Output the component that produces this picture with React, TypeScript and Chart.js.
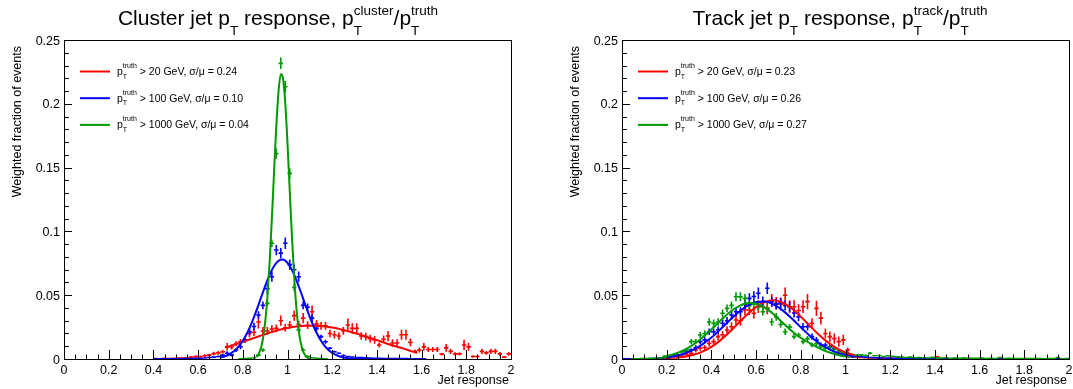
import React, { useEffect, useRef } from "react";
import { Chart, registerables } from "chart.js";
Chart.register(...registerables);

const FONT = '"Liberation Sans", Arial, Helvetica, sans-serif';
const RED = "#ff0000";
const BLUE = "#0000ff";
const GREEN = "#009900";

// 100 bins of width 0.02 on [0, 2]
const BIN_WIDTH = 0.02;
const BIN_CENTERS = Array.from({ length: 100 }, (_, i) => Math.round((0.01 + 0.02 * i) * 100) / 100);

const X_TICKS = [0, 0.2, 0.4, 0.6, 0.8, 1, 1.2, 1.4, 1.6, 1.8, 2];
const X_TICK_LABELS = ["0", "0.2", "0.4", "0.6", "0.8", "1", "1.2", "1.4", "1.6", "1.8", "2"];
const Y_TICKS = [0, 0.05, 0.1, 0.15, 0.2, 0.25];
const Y_TICK_LABELS = ["0", "0.05", "0.1", "0.15", "0.2", "0.25"];

// ---------------- Cluster jets (left) ----------------
const CL_RED = [
  0, 0, 0, 0, 0, 0, 0, 0, 0, 0, 0, 0, 0, 0, 0, 0, 0, 0, 0, 0,
  0.0003, 0.0002, 0.0005, 0.0004, 0.0006, 0.0008, 0.0007, 0.001, 0.0015, 0.002, 0.0018, 0.0025, 0.003, 0.0042, 0.0048, 0.0057,
  0.0096, 0.0094, 0.012, 0.0136, 0.0145, 0.02, 0.021, 0.029, 0.022, 0.022, 0.0235, 0.024, 0.03, 0.0245, 0.0267, 0.034,
  0.027, 0.032, 0.0265, 0.037, 0.0275, 0.026, 0.026, 0.02, 0.019, 0.018, 0.022, 0.0267, 0.024, 0.024, 0.018, 0.0175,
  0.016, 0.015, 0.011, 0.0155, 0.018, 0.0125, 0.0125, 0.019, 0.019, 0.013, 0.006, 0.007, 0.0095, 0.0075, 0.0075, 0.0075,
  0.0038, 0.0087, 0.006, 0.004, 0.004, 0.011, 0.0095, 0.002, 0.002, 0.006, 0.0048, 0.006, 0.006, 0.004, 0.0015, 0.004,
];
const CL_RED_ERR = [
  0, 0, 0, 0, 0, 0, 0, 0, 0, 0, 0, 0, 0, 0, 0, 0, 0, 0, 0, 0,
  0.0003, 0.0002, 0.0004, 0.0003, 0.0004, 0.0005, 0.0005, 0.0006, 0.0008, 0.001, 0.0009, 0.0012, 0.0012, 0.0015, 0.0015, 0.0015,
  0.003, 0.002, 0.002, 0.002, 0.002, 0.003, 0.003, 0.005, 0.003, 0.003, 0.003, 0.003, 0.004, 0.003, 0.003, 0.004,
  0.003, 0.004, 0.003, 0.005, 0.003, 0.003, 0.003, 0.003, 0.003, 0.003, 0.003, 0.005, 0.004, 0.004, 0.003, 0.003,
  0.003, 0.003, 0.002, 0.003, 0.004, 0.003, 0.003, 0.004, 0.004, 0.003, 0.0015, 0.002, 0.003, 0.002, 0.002, 0.002,
  0.001, 0.003, 0.002, 0.0012, 0.0012, 0.004, 0.003, 0.001, 0.001, 0.002, 0.0015, 0.002, 0.002, 0.0015, 0.0008, 0.0015,
];
const CL_BLUE = [
  0, 0, 0, 0, 0, 0, 0, 0, 0, 0, 0, 0, 0, 0, 0, 0, 0, 0, 0, 0,
  0.0001, 0.0001, 0.0002, 0.0001, 0.0002, 0.0002, 0.0003, 0.0003, 0.0004, 0.0005,
  0.0006, 0.0008, 0.0012, 0.0015, 0.002, 0.003, 0.0045, 0.003, 0.007, 0.0096, 0.015, 0.0214, 0.0255, 0.0345, 0.042, 0.055,
  0.0645, 0.0854, 0.083, 0.0907, 0.074, 0.07, 0.0645, 0.042, 0.0405, 0.032, 0.024, 0.0175, 0.0135, 0.0084, 0.0057, 0.0045,
  0.0028, 0.002, 0.0016, 0.0012, 0.0012, 0.0009, 0.0007, 0.0006, 0.0005, 0.0004, 0.0004, 0.0003, 0.0004, 0.0003, 0.0003, 0.0002,
  0.0002, 0.0002, 0.0001, 0, 0, 0, 0, 0, 0, 0, 0, 0, 0, 0, 0, 0, 0, 0, 0, 0, 0, 0,
];
const CL_BLUE_ERR = [
  0, 0, 0, 0, 0, 0, 0, 0, 0, 0, 0, 0, 0, 0, 0, 0, 0, 0, 0, 0,
  0.0001, 0.0001, 0.0001, 0.0001, 0.0001, 0.0001, 0.0002, 0.0002, 0.0002, 0.0003,
  0.0003, 0.0004, 0.0005, 0.0006, 0.0008, 0.001, 0.0015, 0.001, 0.0015, 0.002, 0.002, 0.0025, 0.003, 0.003, 0.003, 0.004,
  0.004, 0.004, 0.004, 0.0045, 0.004, 0.004, 0.004, 0.003, 0.003, 0.003, 0.002, 0.0015, 0.0015, 0.001, 0.0008, 0.0007,
  0.0005, 0.0004, 0.0003, 0.0003, 0.0003, 0.0002, 0.0002, 0.0002, 0.0002, 0.0001, 0.0001, 0.0001, 0.0001, 0.0001, 0.0001, 0.0001,
  0.0001, 0.0001, 0.0001, 0, 0, 0, 0, 0, 0, 0, 0, 0, 0, 0, 0, 0, 0, 0, 0, 0, 0, 0,
];
const CL_GREEN = [
  0, 0, 0, 0, 0, 0, 0, 0, 0, 0, 0, 0, 0, 0, 0, 0, 0, 0, 0, 0,
  0, 0, 0, 0, 0, 0, 0, 0, 0, 0, 0, 0, 0, 0, 0, 0, 0, 0, 0, 0.0002,
  0.0003, 0.0005, 0.001, 0.003, 0.007, 0.0436, 0.0907, 0.161, 0.2317, 0.2134,
  0.1455, 0.056, 0.0227, 0.007, 0.002, 0.001, 0.0005, 0.0003, 0.0002, 0,
  0, 0, 0, 0, 0, 0, 0, 0, 0, 0, 0, 0, 0, 0, 0, 0, 0, 0, 0, 0,
  0, 0, 0, 0, 0, 0, 0, 0, 0, 0, 0, 0, 0, 0, 0, 0, 0, 0, 0, 0,
];
const CL_GREEN_ERR = [
  0, 0, 0, 0, 0, 0, 0, 0, 0, 0, 0, 0, 0, 0, 0, 0, 0, 0, 0, 0,
  0, 0, 0, 0, 0, 0, 0, 0, 0, 0, 0, 0, 0, 0, 0, 0, 0, 0, 0, 0.0001,
  0.0002, 0.0003, 0.0005, 0.001, 0.0015, 0.002, 0.003, 0.004, 0.0045, 0.0045,
  0.004, 0.003, 0.002, 0.0015, 0.001, 0.0005, 0.0003, 0.0002, 0.0001, 0,
  0, 0, 0, 0, 0, 0, 0, 0, 0, 0, 0, 0, 0, 0, 0, 0, 0, 0, 0, 0,
  0, 0, 0, 0, 0, 0, 0, 0, 0, 0, 0, 0, 0, 0, 0, 0, 0, 0, 0, 0,
];

const CL_FIT_RED_X = [0.72, 0.76, 0.8, 0.84, 0.88, 0.92, 0.96, 1.0, 1.04, 1.08, 1.12, 1.16, 1.2, 1.24, 1.28, 1.32, 1.36, 1.4, 1.44, 1.48, 1.52, 1.56, 1.58];
const CL_FIT_RED_Y = [0.009, 0.0111, 0.0135, 0.0159, 0.0183, 0.0206, 0.0227, 0.0243, 0.0255, 0.0261, 0.0261, 0.0256, 0.0246, 0.0232, 0.0214, 0.0193, 0.0171, 0.0148, 0.0124, 0.0102, 0.0081, 0.0058, 0.0048];
const CL_FIT_BLUE_X = [0.7, 0.72, 0.74, 0.76, 0.78, 0.8, 0.82, 0.84, 0.86, 0.88, 0.9, 0.92, 0.94, 0.96, 0.98, 1.0, 1.02, 1.04, 1.06, 1.08, 1.1, 1.12, 1.14, 1.16, 1.18, 1.2, 1.24, 1.28, 1.32, 1.36, 1.4];
const CL_FIT_BLUE_Y = [0.0012, 0.0021, 0.0037, 0.006, 0.0095, 0.0143, 0.0206, 0.0284, 0.0375, 0.0473, 0.0571, 0.066, 0.0729, 0.077, 0.0779, 0.0753, 0.0697, 0.0617, 0.0523, 0.0423, 0.0328, 0.0243, 0.0173, 0.0117, 0.0076, 0.0047, 0.0016, 0.00045, 0.0001, 0.00002, 0];
const CL_FIT_GREEN_X = [0.86, 0.87, 0.88, 0.89, 0.9, 0.91, 0.92, 0.93, 0.94, 0.95, 0.96, 0.97, 0.98, 0.99, 1.0, 1.01, 1.02, 1.03, 1.04, 1.05, 1.06, 1.07, 1.08, 1.09, 1.1];
const CL_FIT_GREEN_Y = [0.0016, 0.0037, 0.008, 0.0157, 0.0287, 0.0484, 0.0758, 0.1098, 0.1472, 0.1827, 0.2099, 0.2232, 0.2198, 0.2004, 0.1691, 0.1321, 0.0955, 0.064, 0.0396, 0.0227, 0.0121, 0.0059, 0.0027, 0.0011, 0.0004];

// ---------------- Track jets (right) ----------------
const TR_RED = [
  0, 0, 0, 0.0001, 0.0001, 0.0001, 0.0002, 0.0002, 0.0003, 0.0004,
  0.0005, 0.0008, 0.0018, 0.0022, 0.0035, 0.0045, 0.007, 0.0084, 0.009, 0.0122, 0.0136, 0.0175, 0.019, 0.0227, 0.0253, 0.0306,
  0.03, 0.0384, 0.0384, 0.0358, 0.041, 0.041, 0.04, 0.046, 0.0436, 0.043, 0.05, 0.041, 0.041, 0.038, 0.041, 0.045,
  0.028, 0.0397, 0.032, 0.02, 0.0175, 0.016, 0.0136, 0.015, 0.007, 0.002, 0.0015, 0.0012, 0.001, 0.0008, 0.0009, 0.0007,
  0.0006, 0.0005, 0.0006, 0.0005, 0.0004, 0.0005, 0.0004, 0.0003, 0.0004, 0.0003, 0.0003, 0.0004, 0.0018, 0.0003, 0.0003, 0.0002,
  0.0003, 0.0002, 0.0002, 0.0003, 0.0002, 0.0002, 0.0002, 0.0001, 0.0002, 0.0002, 0.0001, 0.0002, 0.0001, 0.0001, 0.0002, 0.0001,
  0.0001, 0.0001, 0.0002, 0.0001, 0.0001, 0.0001, 0.0001, 0.0001, 0.0001, 0.0001,
];
const TR_RED_ERR = [
  0, 0, 0, 0.0001, 0.0001, 0.0001, 0.0001, 0.0001, 0.0002, 0.0002,
  0.0003, 0.0004, 0.0008, 0.001, 0.0012, 0.0015, 0.002, 0.002, 0.002, 0.0025, 0.0025, 0.003, 0.003, 0.003, 0.0035, 0.004,
  0.004, 0.004, 0.004, 0.004, 0.005, 0.005, 0.005, 0.005, 0.005, 0.005, 0.006, 0.005, 0.005, 0.005, 0.005, 0.006,
  0.004, 0.006, 0.005, 0.004, 0.004, 0.004, 0.004, 0.004, 0.002, 0.001, 0.0008, 0.0006, 0.0005, 0.0004, 0.0004, 0.0004,
  0.0003, 0.0003, 0.0003, 0.0003, 0.0002, 0.0003, 0.0002, 0.0002, 0.0002, 0.0002, 0.0002, 0.0002, 0.0008, 0.0002, 0.0002, 0.0001,
  0.0001, 0.0001, 0.0001, 0.0001, 0.0001, 0.0001, 0.0001, 0.0001, 0.0001, 0.0001, 0.0001, 0.0001, 0.0001, 0.0001, 0.0001, 0.0001,
  0.0001, 0.0001, 0.0001, 0.0001, 0.0001, 0.0001, 0.0001, 0.0001, 0.0001, 0.0001,
];
const TR_BLUE = [
  0.0001, 0.0001, 0.0001, 0.0001, 0.0002, 0.0002, 0.0003, 0.0005, 0.0007, 0.001,
  0.0012, 0.002, 0.0028, 0.0035, 0.0057, 0.007, 0.009, 0.0136, 0.015, 0.0214, 0.0214, 0.0227, 0.028, 0.03, 0.0345, 0.037,
  0.037, 0.043, 0.0475, 0.049, 0.0515, 0.045, 0.0554, 0.045, 0.043, 0.044, 0.042, 0.041, 0.036, 0.033, 0.0253, 0.0253,
  0.0175, 0.0148, 0.011, 0.011, 0.0096, 0.0084, 0.006, 0.0045, 0.0035, 0.003, 0.0022, 0.0018, 0.0015, 0.0012, 0.001, 0.0009,
  0.0008, 0.0007, 0.0006, 0.0006, 0.0005, 0.0005, 0.0004, 0.0004, 0.0004, 0.0003, 0.0003, 0.0003, 0.0003, 0.0002, 0.0003, 0.0002,
  0.0002, 0.0002, 0.0003, 0.0002, 0.0002, 0.0002, 0.0001, 0.0002, 0.0002, 0.0002, 0.0001, 0.0002, 0.0002, 0.0001, 0.0002, 0.0002,
  0.0001, 0.0002, 0.0001, 0.0002, 0.0001, 0.0001, 0.0002, 0.0001, 0.0001, 0.0001,
];
const TR_BLUE_ERR = [
  0.0001, 0.0001, 0.0001, 0.0001, 0.0001, 0.0001, 0.0001, 0.0002, 0.0002, 0.0003,
  0.0003, 0.0005, 0.0007, 0.0008, 0.0012, 0.0015, 0.0018, 0.002, 0.0022, 0.0025, 0.0025, 0.0028, 0.003, 0.003, 0.0035, 0.0035,
  0.0035, 0.004, 0.004, 0.004, 0.0045, 0.004, 0.0045, 0.004, 0.004, 0.004, 0.004, 0.004, 0.0035, 0.0035, 0.003, 0.003,
  0.0025, 0.0025, 0.002, 0.002, 0.0018, 0.0015, 0.0012, 0.001, 0.0008, 0.0007, 0.0006, 0.0005, 0.0004, 0.0004, 0.0003, 0.0003,
  0.0002, 0.0002, 0.0002, 0.0002, 0.0002, 0.0002, 0.0002, 0.0002, 0.0002, 0.0001, 0.0001, 0.0001, 0.0001, 0.0001, 0.0001, 0.0001,
  0.0001, 0.0001, 0.0001, 0.0001, 0.0001, 0.0001, 0.0001, 0.0001, 0.0001, 0.0001, 0.0001, 0.0001, 0.0001, 0.0001, 0.0001, 0.0001,
  0.0001, 0.0001, 0.0001, 0.0001, 0.0001, 0.0001, 0.0001, 0.0001, 0.0001, 0.0001,
];
const TR_GREEN = [
  0, 0, 0.0002, 0.0002, 0.0003, 0.0003, 0.0005, 0.0006, 0.0008, 0.0012,
  0.0018, 0.0022, 0.003, 0.0057, 0.007, 0.0136, 0.0136, 0.0188, 0.02, 0.029, 0.028, 0.029, 0.0358, 0.0397, 0.042, 0.0488,
  0.0488, 0.0475, 0.042, 0.043, 0.041, 0.037, 0.0395, 0.029, 0.033, 0.027, 0.0214, 0.025, 0.0175, 0.0188, 0.0136, 0.016,
  0.011, 0.012, 0.0096, 0.0085, 0.009, 0.0075, 0.0055, 0.005, 0.0045, 0.0035, 0.003, 0.0032, 0.0028, 0.0045, 0.0025, 0.0028,
  0.002, 0.0025, 0.0022, 0.0018, 0.0015, 0.0012, 0.0015, 0.001, 0.0012, 0.001, 0.0008, 0.0013, 0.0009, 0.0008, 0.001, 0.0006,
  0.0008, 0.0006, 0.0007, 0.0005, 0.0006, 0.0005, 0.0007, 0.0004, 0.0005, 0.0004, 0.0012, 0.0004, 0.0005, 0.0003, 0.0004, 0.0003,
  0.0004, 0.0003, 0.0003, 0.0004, 0.0002, 0.0003, 0.0003, 0.0012, 0.0002, 0.0003,
];
const TR_GREEN_ERR = [
  0, 0, 0.0001, 0.0001, 0.0001, 0.0001, 0.0002, 0.0002, 0.0003, 0.0004,
  0.0005, 0.0006, 0.0008, 0.0012, 0.0015, 0.002, 0.002, 0.0025, 0.0025, 0.003, 0.003, 0.003, 0.003, 0.003, 0.003, 0.0035,
  0.0035, 0.0035, 0.003, 0.003, 0.003, 0.003, 0.003, 0.003, 0.003, 0.0025, 0.0025, 0.0025, 0.002, 0.002, 0.002, 0.002,
  0.0018, 0.0018, 0.0015, 0.0015, 0.0015, 0.0012, 0.001, 0.001, 0.001, 0.0008, 0.0008, 0.0008, 0.0007, 0.001, 0.0006, 0.0006,
  0.0005, 0.0005, 0.0005, 0.0005, 0.0004, 0.0004, 0.0004, 0.0003, 0.0004, 0.0003, 0.0003, 0.0004, 0.0003, 0.0003, 0.0003, 0.0002,
  0.0003, 0.0002, 0.0002, 0.0002, 0.0002, 0.0002, 0.0002, 0.0002, 0.0002, 0.0002, 0.0004, 0.0002, 0.0002, 0.0001, 0.0002, 0.0001,
  0.0002, 0.0001, 0.0001, 0.0002, 0.0001, 0.0001, 0.0001, 0.0004, 0.0001, 0.0001,
];

const TR_FIT_RED_X = [0.24, 0.28, 0.32, 0.36, 0.4, 0.44, 0.48, 0.52, 0.56, 0.6, 0.64, 0.68, 0.72, 0.76, 0.8, 0.84, 0.88, 0.92, 0.96, 1.0, 1.04];
const TR_FIT_RED_Y = [0.0009, 0.0018, 0.0033, 0.0058, 0.0095, 0.0146, 0.0209, 0.0279, 0.0349, 0.0409, 0.0448, 0.046, 0.0441, 0.0396, 0.0332, 0.0261, 0.0192, 0.0132, 0.0085, 0.0051, 0.0029];
const TR_FIT_BLUE_X = [0.2, 0.24, 0.28, 0.32, 0.36, 0.4, 0.44, 0.48, 0.52, 0.56, 0.6, 0.64, 0.68, 0.72, 0.76, 0.8, 0.84, 0.88, 0.92, 0.96, 1.0, 1.04];
const TR_FIT_BLUE_Y = [0.0013, 0.0025, 0.0044, 0.0073, 0.0115, 0.0168, 0.0232, 0.03, 0.0364, 0.0416, 0.0447, 0.045, 0.0426, 0.0379, 0.0317, 0.0249, 0.0183, 0.0127, 0.0083, 0.005, 0.0029, 0.0016];
const TR_FIT_GREEN_X = [0.18, 0.22, 0.26, 0.3, 0.34, 0.38, 0.42, 0.46, 0.5, 0.54, 0.58, 0.62, 0.66, 0.7, 0.74, 0.78, 0.82, 0.86, 0.9, 0.94, 0.98, 1.02];
const TR_FIT_GREEN_Y = [0.0017, 0.0032, 0.0056, 0.0091, 0.0139, 0.0199, 0.0266, 0.0333, 0.039, 0.0427, 0.0438, 0.042, 0.0377, 0.0316, 0.025, 0.019, 0.0145, 0.0105, 0.007, 0.0045, 0.0025, 0.0013];

const CL_LEGEND = ["> 20 GeV, \u03c3/\u03bc = 0.24", "> 100 GeV, \u03c3/\u03bc = 0.10", "> 1000 GeV, \u03c3/\u03bc = 0.04"];
const TR_LEGEND = ["> 20 GeV, \u03c3/\u03bc = 0.23", "> 100 GeV, \u03c3/\u03bc = 0.26", "> 1000 GeV, \u03c3/\u03bc = 0.27"];

type Seg = { t: string; size: number } | { sub: string; sup: string; size: number; subDy: number; supDy: number };

const CL_TITLE: Seg[] = [
  { t: "Cluster jet p", size: 21 },
  { sub: "T", sup: "", size: 13.5, subDy: 10, supDy: -10 },
  { t: " response, p", size: 21 },
  { sub: "T", sup: "cluster", size: 13.5, subDy: 10, supDy: -10 },
  { t: "/p", size: 21 },
  { sub: "T", sup: "truth", size: 13.5, subDy: 10, supDy: -10 },
];
const TR_TITLE: Seg[] = [
  { t: "Track jet p", size: 21 },
  { sub: "T", sup: "", size: 13.5, subDy: 10, supDy: -10 },
  { t: " response, p", size: 21 },
  { sub: "T", sup: "track", size: 13.5, subDy: 10, supDy: -10 },
  { t: "/p", size: 21 },
  { sub: "T", sup: "truth", size: 13.5, subDy: 10, supDy: -10 },
];

const f = (s: number) => `${s}px ${FONT}`;

function segWidth(ctx: CanvasRenderingContext2D, s: Seg) {
  if ("t" in s) { ctx.font = f(s.size); return ctx.measureText(s.t).width; }
  ctx.font = f(s.size);
  return Math.max(ctx.measureText(s.sub).width, ctx.measureText(s.sup).width);
}
function drawRich(ctx: CanvasRenderingContext2D, segs: Seg[], x: number, y: number, align: "left" | "center") {
  let w = 0;
  segs.forEach((s) => (w += segWidth(ctx, s)));
  let cx = align === "center" ? x - w / 2 : x;
  ctx.textAlign = "left";
  ctx.textBaseline = "alphabetic";
  segs.forEach((s) => {
    const sw = segWidth(ctx, s);
    if ("t" in s) {
      ctx.font = f(s.size);
      ctx.fillText(s.t, cx, y);
    } else {
      ctx.font = f(s.size);
      if (s.sub) ctx.fillText(s.sub, cx, y + s.subDy);
      if (s.sup) ctx.fillText(s.sup, cx, y + s.supDy);
    }
    cx += sw;
  });
}

type Spec = {
  title: Seg[];
  titleCenter: number;
  legend: string[];
  hists: { values: number[]; errors: number[]; color: string }[];
  fits: { x: number[]; y: number[]; color: string }[];
};

const LEFT: Spec = {
  title: CL_TITLE,
  titleCenter: 278,
  legend: CL_LEGEND,
  hists: [
    { values: CL_RED, errors: CL_RED_ERR, color: RED },
    { values: CL_BLUE, errors: CL_BLUE_ERR, color: BLUE },
    { values: CL_GREEN, errors: CL_GREEN_ERR, color: GREEN },
  ],
  fits: [
    { x: CL_FIT_RED_X, y: CL_FIT_RED_Y, color: RED },
    { x: CL_FIT_BLUE_X, y: CL_FIT_BLUE_Y, color: BLUE },
    { x: CL_FIT_GREEN_X, y: CL_FIT_GREEN_Y, color: GREEN },
  ],
};
const RIGHT: Spec = {
  title: TR_TITLE,
  titleCenter: 282,
  legend: TR_LEGEND,
  hists: [
    { values: TR_RED, errors: TR_RED_ERR, color: RED },
    { values: TR_BLUE, errors: TR_BLUE_ERR, color: BLUE },
    { values: TR_GREEN, errors: TR_GREEN_ERR, color: GREEN },
  ],
  fits: [
    { x: TR_FIT_RED_X, y: TR_FIT_RED_Y, color: RED },
    { x: TR_FIT_BLUE_X, y: TR_FIT_BLUE_Y, color: BLUE },
    { x: TR_FIT_GREEN_X, y: TR_FIT_GREEN_Y, color: GREEN },
  ],
};

const H = 389;
const PLOT_LEFT = 64;
const PLOT_RIGHT = 511;
const PLOT_TOP = 40;
const PLOT_BOTTOM = 359;

function makePlugin(spec: Spec) {
  return {
    id: "rootStyle",
    beforeDatasetsDraw(chart: any) {
      const { ctx, chartArea: a } = chart;
      ctx.save();
      ctx.beginPath();
      ctx.rect(a.left, a.top, a.right - a.left, a.bottom - a.top + 1);
      ctx.clip();
      const xs = chart.scales.x;
      const ys = chart.scales.y;
      chart.data.datasets.forEach((ds: any, di: number) => {
        if (!ds.errors) return;
        const meta = chart.getDatasetMeta(di);
        ctx.strokeStyle = ds.borderColor;
        ctx.lineWidth = 1.6;
        ctx.beginPath();
        ds.data.forEach((p: any, j: number) => {
          if (!p.y) return;
          const el = meta.data[j];
          const half = (xs.getPixelForValue(p.x + BIN_WIDTH / 2) - xs.getPixelForValue(p.x - BIN_WIDTH / 2)) / 2;
          ctx.moveTo(el.x - half, el.y);
          ctx.lineTo(el.x + half, el.y);
          const e = ds.errors[j];
          if (e > 0) {
            ctx.moveTo(el.x, ys.getPixelForValue(p.y + e));
            ctx.lineTo(el.x, ys.getPixelForValue(p.y - e));
          }
        });
        ctx.stroke();
      });
      ctx.restore();
    },
    afterDraw(chart: any) {
      const { ctx, chartArea: a } = chart;
      const xs = chart.scales.x;
      const ys = chart.scales.y;
      ctx.save();
      ctx.strokeStyle = "#000";
      ctx.fillStyle = "#000";
      ctx.lineWidth = 1;
      // frame
      ctx.strokeRect(a.left + 0.5, a.top + 0.5, a.right - a.left, a.bottom - a.top);
      // x ticks (major 0.2, minor 0.05), drawn inward
      ctx.beginPath();
      for (let k = 0; k <= 40; k++) {
        const px = Math.round(xs.getPixelForValue(k * 0.05)) + 0.5;
        const len = k % 4 === 0 ? 9 : 4.5;
        ctx.moveTo(px, a.bottom);
        ctx.lineTo(px, a.bottom - len);
      }
      // y ticks (major 0.05, minor 0.01)
      for (let k = 0; k <= 25; k++) {
        const py = Math.round(ys.getPixelForValue(k * 0.01)) + 0.5;
        const len = k % 5 === 0 ? 8 : 5;
        ctx.moveTo(a.left, py);
        ctx.lineTo(a.left + len, py);
      }
      ctx.stroke();
      // tick labels
      ctx.font = f(12.5);
      ctx.textBaseline = "alphabetic";
      ctx.textAlign = "center";
      X_TICKS.forEach((v, i) => ctx.fillText(X_TICK_LABELS[i], xs.getPixelForValue(v), a.bottom + 15));
      ctx.textAlign = "right";
      Y_TICKS.forEach((v, i) => ctx.fillText(Y_TICK_LABELS[i], a.left - 4, ys.getPixelForValue(v) + 4.5));
      // axis titles
      ctx.textAlign = "right";
      ctx.fillText("Jet response", a.right - 2, 384);
      ctx.save();
      ctx.translate(21, 46);
      ctx.rotate(-Math.PI / 2);
      ctx.textAlign = "right";
      ctx.fillText("Weighted fraction of events", 0, 0);
      ctx.restore();
      // title
      drawRich(ctx, spec.title, spec.titleCenter, 25, "center");
      // legend
      const rows = [75, 101.7, 128.4];
      spec.legend.forEach((txt, i) => {
        const yb = rows[i];
        ctx.strokeStyle = spec.fits[i].color;
        ctx.lineWidth = 2;
        ctx.beginPath();
        ctx.moveTo(80, yb - 3.5);
        ctx.lineTo(110, yb - 3.5);
        ctx.stroke();
        ctx.fillStyle = "#000";
        drawRich(
          ctx,
          [
            { t: "p", size: 10.5 },
            { sub: "T", sup: "truth", size: 7, subDy: 3.5, supDy: -7 },
            { t: " " + txt, size: 10.5 },
          ],
          117,
          yb,
          "left"
        );
      });
      ctx.restore();
    },
  };
}

function buildConfig(spec: Spec, width: number): any {
  const datasets: any[] = [];
  spec.hists.forEach((h, i) => {
    datasets.push({
      type: "scatter",
      data: BIN_CENTERS.map((c, j) => ({ x: c, y: h.values[j] })),
      errors: h.errors,
      borderColor: h.color,
      backgroundColor: h.color,
      pointRadius: 0,
      showLine: false,
      order: 10,
    });
  });
  spec.fits.forEach((ft, i) => {
    datasets.push({
      type: "line",
      data: ft.x.map((x, j) => ({ x, y: ft.y[j] })),
      borderColor: ft.color,
      borderWidth: 2,
      pointRadius: 0,
      fill: false,
      cubicInterpolationMode: "monotone",
      order: 3 - i,
    });
  });
  return {
    type: "scatter",
    data: { datasets },
    options: {
      responsive: false,
      animation: false,
      devicePixelRatio: 1,
      layout: { padding: { left: 0, top: PLOT_TOP, right: width - PLOT_RIGHT, bottom: 0 } },
      plugins: { legend: { display: false }, tooltip: { enabled: false }, title: { display: false } },
      events: [],
      scales: {
        x: {
          type: "linear",
          min: 0,
          max: 2,
          ticks: { display: false, stepSize: 0.2 },
          grid: { display: false, drawTicks: false },
          border: { display: false },
          afterFit: (s: any) => { s.height = H - PLOT_BOTTOM; },
        },
        y: {
          type: "linear",
          min: 0,
          max: 0.25,
          ticks: { display: false, stepSize: 0.05 },
          grid: { display: false, drawTicks: false },
          border: { display: false },
          afterFit: (s: any) => { s.width = PLOT_LEFT; },
        },
      },
    },
    plugins: [makePlugin(spec)],
  };
}

function Panel({ spec, left, width }: { spec: Spec; left: number; width: number }) {
  const ref = useRef<HTMLCanvasElement>(null);
  useEffect(() => {
    const chart = new Chart(ref.current as HTMLCanvasElement, buildConfig(spec, width));
    return () => chart.destroy();
  }, [spec, width]);
  return (
    <canvas
      ref={ref}
      width={width}
      height={H}
      style={{ position: "absolute", left, top: 0, width, height: H, display: "block" }}
    />
  );
}

export default function App() {
  return (
    <div style={{ position: "fixed", left: 0, top: 0, width: 1073, height: H, background: "#fff", overflow: "hidden" }}>
      <Panel spec={LEFT} left={0} width={536} />
      <Panel spec={RIGHT} left={558} width={515} />
    </div>
  );
}
